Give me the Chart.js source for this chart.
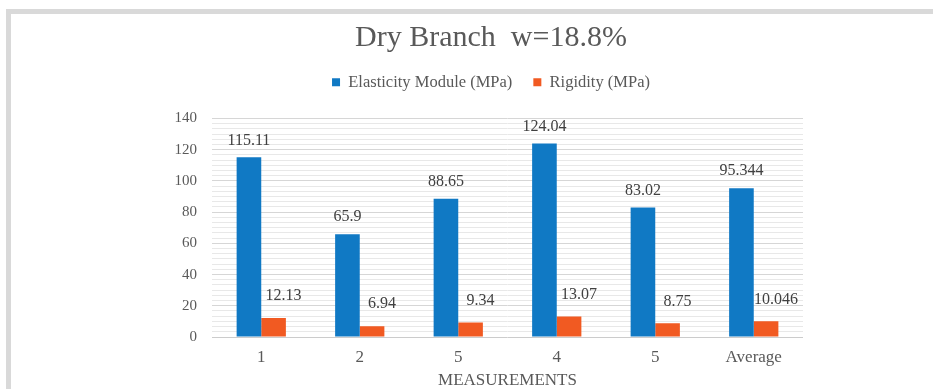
<!DOCTYPE html>
<html>
<head>
<meta charset="utf-8">
<title>Dry Branch w=18.8%</title>
<script src="https://cdn.jsdelivr.net/npm/chart.js@4"></script>
<style>
  html, body { margin: 0; padding: 0; width: 933px; height: 389px; overflow: hidden; background: #fff; }
  .frame-top { position: absolute; left: 6px; top: 9px; width: 927px; height: 5px; background: #d9d9d9; }
  .frame-left { position: absolute; left: 6px; top: 9px; width: 5px; height: 380px; background: #d9d9d9; }
  #chart { position: absolute; left: 0; top: 0; }
</style>
</head>
<body>
<div class="frame-top"></div>
<div class="frame-left"></div>
<canvas id="chart" width="982" height="389"></canvas>
<script>
// chart data
const categories = ['1', '2', '5', '4', '5', 'Average'];
const elasticity = [115.11, 65.9, 88.65, 124.04, 83.02, 95.344];
const rigidity = [12.13, 6.94, 9.34, 13.07, 8.75, 10.046];
const seriesNames = ['Elasticity Module (MPa)', 'Rigidity (MPa)'];

const FONT = "'Liberation Serif', 'Times New Roman', serif";
const TEXT = '#595959';

// value labels above the bars (blue centred, orange a bit higher and to the right)
const barLabels = {
    id: 'barLabels',
    afterDatasetsDraw(chart) {
        const ctx = chart.ctx;
        ctx.save();
        ctx.font = '16px ' + FONT;
        ctx.fillStyle = '#404040';
        ctx.textAlign = 'center';
        ctx.textBaseline = 'middle';
        chart.data.datasets.forEach((ds, i) => {
            const meta = chart.getDatasetMeta(i);
            const dx = i === 0 ? 0 : 10;
            const dy = i === 0 ? 17 : 22;
            meta.data.forEach((bar, j) => {
                ctx.fillText(String(ds.data[j]), bar.x + dx, bar.y - dy);
            });
        });
        ctx.restore();
    }
};

// extra room under the legend
const legendGap = {
    id: 'legendGap',
    beforeInit(chart) {
        const fit = chart.legend.fit;
        chart.legend.fit = function () {
            fit.call(this);
            this.height += 18;
        };
    }
};

new Chart(document.getElementById('chart'), {
    type: 'bar',
    data: {
        labels: categories,
        datasets: [
            {
                label: seriesNames[0],
                data: elasticity,
                backgroundColor: '#1079c4',
                categoryPercentage: 0.5,
                barPercentage: 1.0
            },
            {
                label: seriesNames[1],
                data: rigidity,
                backgroundColor: '#f15a22',
                categoryPercentage: 0.5,
                barPercentage: 1.0
            }
        ]
    },
    options: {
        responsive: false,
        animation: false,
        layout: { padding: 0 },
        plugins: {
            title: {
                display: true,
                text: 'Dry Branch  w=18.8%',
                color: TEXT,
                font: { family: FONT, size: 30, weight: 'normal', lineHeight: 1 },
                padding: { top: 23, bottom: 0 }
            },
            legend: {
                display: true,
                position: 'top',
                labels: {
                    color: TEXT,
                    font: { family: FONT, size: 16.5 },
                    boxWidth: 8,
                    boxHeight: 8,
                    padding: 21
                }
            },
            tooltip: { enabled: false }
        },
        scales: {
            x: {
                grid: { display: false, drawTicks: false },
                border: { display: false },
                ticks: {
                    color: TEXT,
                    font: { family: FONT, size: 17 },
                    padding: 10
                },
                title: {
                    display: true,
                    text: 'MEASUREMENTS',
                    color: TEXT,
                    font: { family: FONT, size: 17, lineHeight: 1 },
                    padding: 0
                },
                afterFit(s) { s.height = 52; }
            },
            y: {
                min: 0,
                max: 140,
                border: { display: false },
                afterBuildTicks(s) {
                    // major every 20, six minor divisions between
                    const t = [];
                    for (let i = 0; i <= 42; i++) t.push({ value: i * 20 / 6 });
                    s.ticks = t;
                },
                ticks: {
                    autoSkip: false,
                    color: TEXT,
                    font: { family: FONT, size: 15 },
                    padding: 15,
                    callback(v) {
                        const r = Math.round(v);
                        return Math.abs(v - r) < 1e-6 && r % 20 === 0 ? String(r) : '';
                    }
                },
                grid: {
                    drawTicks: false,
                    lineWidth: 1,
                    color(c) {
                        const v = c.tick ? c.tick.value : 0;
                        const r = Math.round(v);
                        const major = Math.abs(v - r) < 1e-6 && r % 20 === 0;
                        if (r === 0 && major) return '#cccccc';
                        return major ? '#d6d6d6' : '#e8e8e8';
                    }
                },
                afterFit(s) { s.width = 212; }
            },
            pad: {
                type: 'linear',
                position: 'right',
                grid: { display: false },
                border: { display: false },
                ticks: { display: false },
                afterFit(s) { s.width = 179; }
            }
        }
    },
    plugins: [barLabels, legendGap]
});
</script>
</body>
</html>
